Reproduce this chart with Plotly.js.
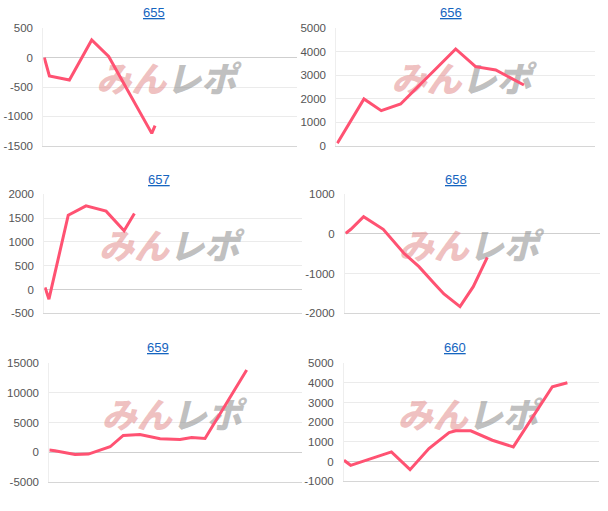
<!DOCTYPE html>
<html>
<head>
<meta charset="utf-8">
<script src="https://cdn.plot.ly/plotly-3.0.1.min.js"></script>
<style>html,body{margin:0;padding:0;background:#fff;}#chart{width:608px;height:511px;}</style>
</head>
<body>
<div id="chart"></div>
<script>
// Chart titles (machine numbers)
const titles = ["655", "656", "657", "658", "659", "660"];

// x positions (progress through the day, % of axis) and values for each chart
const x655 = [0.4, 2.4, 10.3, 19.1, 25.8, 42.8, 44.1];
const y655 = [0, -312, -381, 301, 20, -1290, -1159];

const x656 = [0.4, 10.7, 17.4, 24.9, 46.2, 53.9, 61.7, 72.6];
const y656 = [100, 1989, 1491, 1776, 4119, 3366, 3224, 2585];

const x657 = [0.3, 1.8, 9.3, 16.2, 24.0, 31.0, 35.0];
const y657 = [42, -203, 1561, 1758, 1646, 1232, 1596];

const x658 = [0.3, 2.3, 7.3, 15.0, 23.1, 29.0, 34.9, 38.8, 45.1, 50.3, 55.8];
const y658 = [17, 118, 437, 118, -487, -824, -1244, -1513, -1832, -1328, -588];

const x659 = [0.0, 2.2, 10.2, 15.5, 20.1, 24.1, 29.3, 35.9, 43.9, 51.8, 56.4, 61.7, 78.2];
const y659 = [338, 225, -394, -338, 338, 901, 2817, 2986, 2254, 2141, 2479, 2310, 13859];

const x660 = [0.0, 2.6, 18.6, 25.9, 33.3, 41.2, 43.8, 49.7, 58.2, 66.4, 81.7, 87.6];
const y660 = [68, -187, 493, -408, 663, 1479, 1564, 1564, 1088, 748, 3810, 4014];

// y-axis tick values per chart
const ticks655 = [-1500, -1000, -500, 0, 500];
const ticks656 = [0, 1000, 2000, 3000, 4000, 5000];
const ticks657 = [-500, 0, 500, 1000, 1500, 2000];
const ticks658 = [-2000, -1000, 0, 1000];
const ticks659 = [-5000, 0, 5000, 10000, 15000];
const ticks660 = [-1000, 0, 1000, 2000, 3000, 4000, 5000];

const xs = [x655, x656, x657, x658, x659, x660];
const ys = [y655, y656, y657, y658, y659, y660];
const tks = [ticks655, ticks656, ticks657, ticks658, ticks659, ticks660];

// layout geometry (pixels)
const W = 608, H = 511;
const boxes = [
  {l: 43.3, r: 296.7, t: 28.3, b: 145.7, tx: 154, ty: 12},
  {l: 336.3, r: 594.7, t: 28.3, b: 145.7, tx: 451, ty: 12},
  {l: 44.3, r: 301.7, t: 194.3, b: 313.3, tx: 159, ty: 179},
  {l: 345, r: 600, t: 194.3, b: 313.3, tx: 456, ty: 179},
  {l: 49.3, r: 301.7, t: 363.3, b: 481.7, tx: 158, ty: 347},
  {l: 344, r: 599, t: 363.3, b: 481.3, tx: 455, ty: 347}
];

const traces = [];
const layout = {
  width: W, height: H,
  margin: {l: 0, r: 0, t: 0, b: 0},
  paper_bgcolor: "#fff", plot_bgcolor: "#fff",
  showlegend: false,
  font: {family: "Liberation Sans, Arial, sans-serif", color: "#444", size: 11},
  annotations: []
};

const wmText = "<span style='color:rgba(226,140,140,0.55)'>みん</span><span style='color:rgba(150,150,150,0.6)'>レポ</span>";

for (let i = 0; i < 6; i++) {
  const n = i === 0 ? "" : String(i + 1);
  const b = boxes[i];
  const t = tks[i];
  const ymin = t[0], ymax = t[t.length - 1];
  // watermark (drawn beneath the line)
  traces.push({
    type: "scatter", mode: "text",
    x: [48.5], y: [ymin + (ymax - ymin) * 0.53],
    xaxis: "x" + n, yaxis: "y" + n,
    text: [wmText],
    textposition: "middle center",
    textfont: {size: 35, family: "Noto Sans CJK JP, sans-serif", weight: 900, style: "italic", color: "#aaa"},
    hoverinfo: "skip", cliponaxis: false
  });
  traces.push({
    type: "scatter", mode: "lines",
    x: xs[i], y: ys[i],
    xaxis: "x" + n, yaxis: "y" + n,
    line: {color: "#ff5272", width: 3},
    hoverinfo: "skip"
  });
  layout["xaxis" + n] = {
    domain: [b.l / W, b.r / W],
    anchor: "y" + n,
    range: [0, 100],
    showticklabels: false, showgrid: false, zeroline: false,
    showline: true, linecolor: "#d6d6d6", linewidth: 1,
    fixedrange: true
  };
  layout["yaxis" + n] = {
    domain: [1 - b.b / H, 1 - b.t / H],
    anchor: "x" + n,
    range: [ymin, ymax],
    tickmode: "array", tickvals: t, ticktext: t.map(String),
    ticks: "outside", ticklen: 7, tickcolor: "rgba(0,0,0,0)",
    tickfont: {size: 11.5, color: "#555", family: "Liberation Sans, Arial, sans-serif"},
    showgrid: true, gridcolor: "#ebebeb", gridwidth: 1,
    zeroline: true, zerolinecolor: "#cfcfcf", zerolinewidth: 1,
    showline: true, linecolor: "#eeeeee", linewidth: 1,
    fixedrange: true
  };
  // title
  layout.annotations.push({
    xref: "paper", yref: "paper",
    x: b.tx / W, y: 1 - b.ty / H,
    xanchor: "center", yanchor: "middle",
    text: "<u>" + titles[i] + "</u>",
    showarrow: false,
    font: {size: 13, color: "#1565c0", family: "Liberation Sans, Arial, sans-serif"}
  });
}

Plotly.newPlot("chart", traces, layout, {staticPlot: true, displayModeBar: false});
</script>
</body>
</html>
